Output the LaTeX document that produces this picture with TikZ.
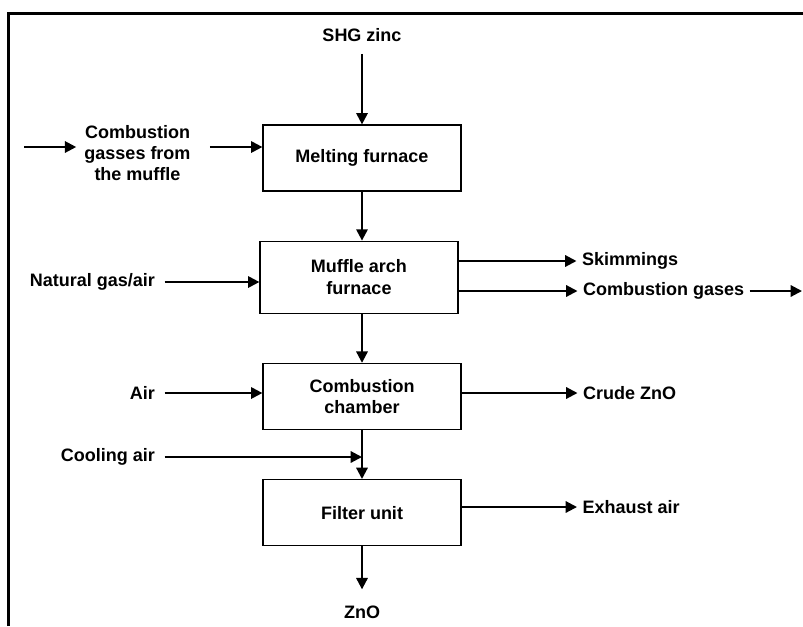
\documentclass[tikz,border=0pt]{standalone}
\usepackage{fontspec}
\setmainfont{Liberation Sans}
\usepackage{tikz}
\usetikzlibrary{positioning,arrows.meta,calc}

\begin{document}
\begin{tikzpicture}[
  x=0.75pt, y=-0.75pt,
  font=\fontsize{13.5}{16}\selectfont\bfseries,
  unit/.style={draw, line width=0.9pt, minimum width=148.5pt,
               minimum height=49.5pt, align=center, inner sep=2pt},
  lbl/.style={align=center, inner xsep=7pt},
  rlbl/.style={anchor=west, inner xsep=4pt},
  ar/.style={-{Triangle[length=8.5pt,width=8.5pt]}, line width=1.6pt},
  frame/.style={line width=1.7pt},
  node distance=36.75pt,
]
  \useasboundingbox (0,0) rectangle (803,626);
  \draw[frame] (8.5,626) -- (8.5,13.5) -- (803,13.5);

  %% Main column of units
  \node[unit] (mf) at (362,158) {Melting furnace};
  \node[unit, minimum height=54pt, below=of mf, xshift=-2.25pt] (mu)
    {Muffle arch\\furnace};
  \node[unit, below=of mu, xshift=2.25pt] (cc) {Combustion\\chamber};
  \node[unit, below=of cc] (fu) {Filter unit};

  %% Feeds
  \node (sz) at (362,35) {SHG zinc};
  \node[lbl, inner xsep=6pt] (cg) at (137.5,153)
    {Combustion\\gasses from\\the muffle};
  \coordinate (cgin) at (24,147);
  \node[lbl, anchor=east] (ng) at (164.5,282) {Natural gas/air};
  \node[lbl, anchor=east] (ai) at (164.5,393) {Air};
  \node[lbl, anchor=east] (cl) at (164.5,457) {Cooling air};

  %% Products
  \node[rlbl] (sk) at (576.5,261) {Skimmings};
  \node[rlbl] (gs) at (577.5,291) {Combustion gases};
  \coordinate (gsout) at (802,291);
  \node[rlbl] (cz) at (577.5,393) {Crude ZnO};
  \node[rlbl] (ex) at (577,507) {Exhaust air};
  \node (zn) at (362,612) {ZnO};

  %% Main flow
  \draw[ar, shorten <=5.7pt] (sz.south) -- (mf.north);
  \draw[ar] (mf.south) -- (mf.south |- mu.north);
  \draw[ar] (cc.north |- mu.south) -- (cc.north);
  \draw[ar] (cc.south) -- (fu.north);
  \draw[ar, shorten >=8.7pt] (fu.south) -- (zn.north);

  %% Side streams in
  \draw[ar] (cgin) -- (cg.west |- cgin);
  \draw[ar] ([xshift=8.25pt]cg.east |- cgin) -- (mf.west |- cgin);
  \draw[ar] (ng.east) -- (ng.east -| mu.west);
  \draw[ar] (ai.east) -- (ai.east -| cc.west);
  \draw[ar] (cl.east) -- (cl.east -| cc.south);

  %% Side streams out
  \foreach \a/\b in {mu/sk, mu/gs, cc/cz, fu/ex}
    \draw[ar] (\a.east |- \b.west) -- (\b.west);
  \draw[ar] (gs.east) -- (gsout);
\end{tikzpicture}
\end{document}
